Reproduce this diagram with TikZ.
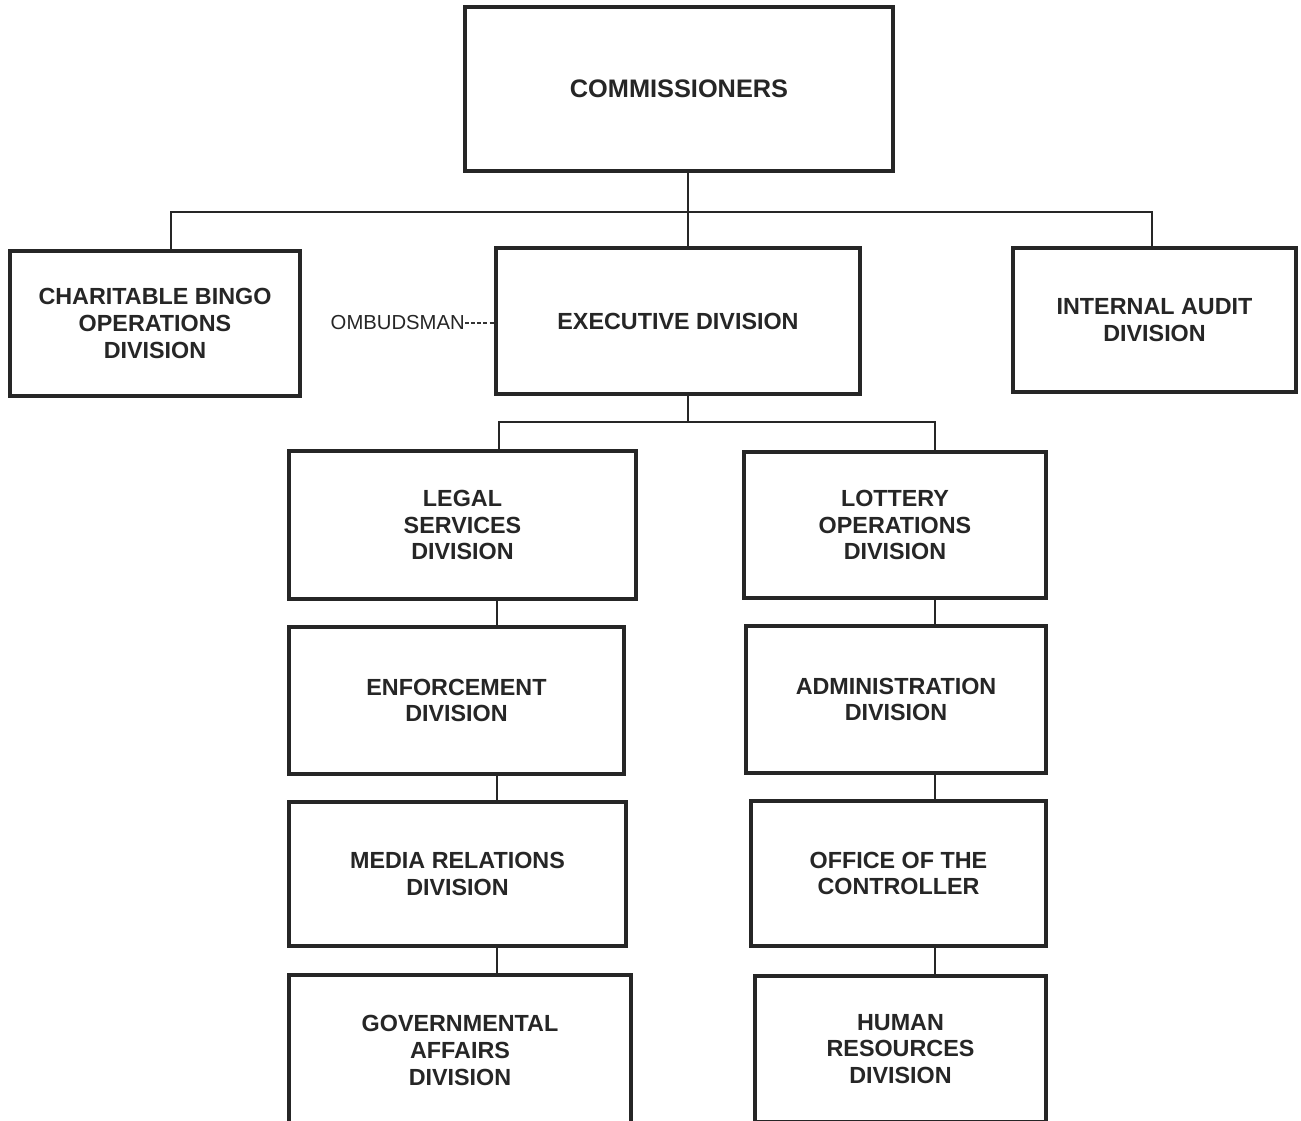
\documentclass[tikz,border=0pt]{standalone}
\usepackage{fontspec}
\setmainfont{Liberation Sans}
\usetikzlibrary{fit}
\begin{document}
\begin{tikzpicture}[x=0.75pt,y=-0.75pt,
  box/.style={draw=black!85, line width=2.6pt, inner sep=0pt},
  lbl/.style={align=center, inner sep=0pt,
    font=\bfseries\fontsize{17.5}{20}\selectfont, text=black!85},
  conn/.style={draw=black!85, line width=1.4pt},
  dashconn/.style={draw=black!80, line width=0.8pt, dash pattern=on 3pt off 1.6pt}]
\clip (0,0) rectangle (1301,1120);
\fill[white] (0,0) rectangle (1301,1120);
% boxes
\node[box, fit={(465,7) (893,171)}, label={[lbl, font=\bfseries\fontsize{19}{20}\selectfont]center:COMMISSIONERS}] (comm) {};
\node[box, fit={(10,251) (300,396)}, label={[lbl]center:CHARITABLE BINGO\\OPERATIONS\\DIVISION}] (bingo) {};
\node[box, fit={(496,248) (860,394)}, label={[lbl]center:EXECUTIVE DIVISION}] (exec) {};
\node[box, fit={(1013,248) (1296,392)}, label={[lbl]center:INTERNAL AUDIT\\DIVISION}] (audit) {};
\node[box, fit={(289,451) (636,599)}, label={[lbl]center:LEGAL\\SERVICES\\DIVISION}] (legal) {};
\node[box, fit={(744,452) (1046,598)}, label={[lbl]center:LOTTERY\\OPERATIONS\\DIVISION}] (lottery) {};
\node[box, fit={(289,627) (624,774)}, label={[lbl]center:ENFORCEMENT\\DIVISION}] (enf) {};
\node[box, fit={(746,626) (1046,773)}, label={[lbl]center:ADMINISTRATION\\DIVISION}] (admin) {};
\node[box, fit={(289,802) (626,946)}, label={[lbl]center:MEDIA RELATIONS\\DIVISION}] (media) {};
\node[box, fit={(751,801) (1046,946)}, label={[lbl]center:OFFICE OF THE\\CONTROLLER}] (office) {};
\node[box, fit={(289,975) (631,1126)}, label={[lbl]center:GOVERNMENTAL\\AFFAIRS\\DIVISION}] (gov) {};
\node[box, fit={(755,976) (1046,1122)}, label={[lbl]center:HUMAN\\RESOURCES\\DIVISION}] (hr) {};
% ombudsman
\node[anchor=east, inner sep=0pt, font=\fontsize{15.2}{16}\selectfont, text=black!85] (omb) at (465,323) {OMBUDSMAN};
\draw[dashconn] (omb.east) -- (exec.west |- omb.east);
% connector junctions
\coordinate (t1) at (688,212);
\coordinate (tl) at (171,212);
\coordinate (tr) at (1152,212);
\coordinate (t2) at (688,422);
\coordinate (t2l) at (499,422);
\coordinate (t2r) at (935,422);
\coordinate (cl) at (497,0);
\coordinate (cr) at (935,0);
\draw[conn] (comm.south -| t1) -- (exec.north -| t1);
\draw[conn] (bingo.north -| tl) -- (tl) -- (tr) -- (audit.north -| tr);
\draw[conn] (exec.south -| t2) -- (t2);
\draw[conn] (legal.north -| t2l) -- (t2l) -- (t2r) -- (lottery.north -| t2r);
\draw[conn] (legal.south -| cl) -- (enf.north -| cl);
\draw[conn] (enf.south -| cl) -- (media.north -| cl);
\draw[conn] (media.south -| cl) -- (gov.north -| cl);
\draw[conn] (lottery.south -| cr) -- (admin.north -| cr);
\draw[conn] (admin.south -| cr) -- (office.north -| cr);
\draw[conn] (office.south -| cr) -- (hr.north -| cr);
\end{tikzpicture}
\end{document}
